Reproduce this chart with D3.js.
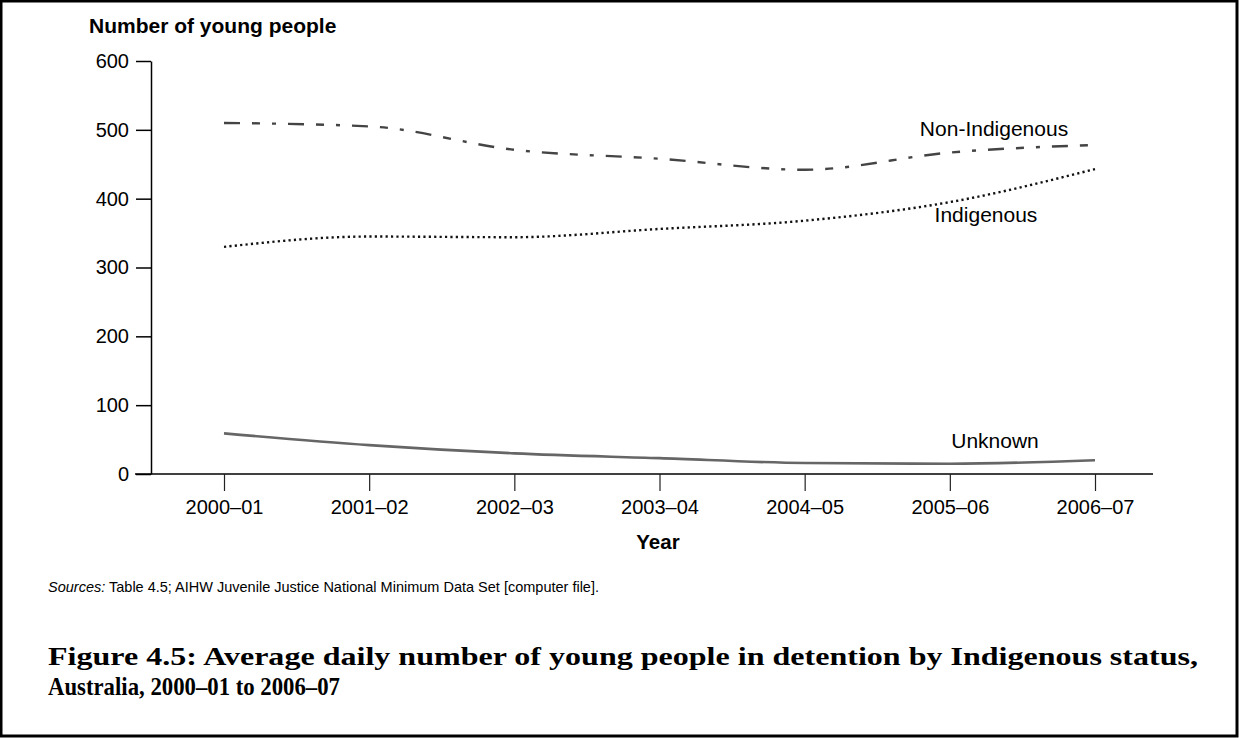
<!DOCTYPE html>
<html>
<head>
<meta charset="utf-8">
<script src="https://cdn.jsdelivr.net/npm/d3@7"></script>
<style>
  body { margin: 0; background: #fff; }
</style>
</head>
<body>
<div id="chart"></div>
<script>
// values
var years = ["2000–01", "2001–02", "2002–03", "2003–04", "2004–05", "2005–06", "2006–07"];
var nonIndigenous = [510, 505, 471, 458, 442, 467, 478];
var indigenous = [330, 345, 344, 356, 368, 395, 443];
var unknown = [59, 42, 30, 23, 16, 15, 20];
var yTicks = [0, 100, 200, 300, 400, 500, 600];

var W = 1239, H = 738;
var SANS = "Liberation Sans, Arial, sans-serif";
var SERIF = "Liberation Serif, 'DejaVu Serif', serif";

var svg = d3.select("#chart")
    .append("svg")
      .attr("width", W)
      .attr("height", H)
      .attr("font-family", SANS);

// page frame
svg.append("rect")
    .attr("x", 1).attr("y", 1)
    .attr("width", W - 3).attr("height", H - 3)
    .attr("fill", "#fff")
    .attr("stroke", "#000")
    .attr("stroke-width", 3);

var yScale = d3.scaleLinear().domain([0, 600]).range([474, 61]);
var xScale = d3.scalePoint().domain(years).range([224, 1095]);

// y axis
var yAxis = svg.append("g")
    .attr("transform", "translate(151,0)")
    .call(d3.axisLeft(yScale).tickValues(yTicks).tickSize(15).tickPadding(7).tickSizeOuter(0));
yAxis.select(".domain").attr("stroke", "#000").attr("stroke-width", 1.5);
yAxis.selectAll(".tick line").attr("stroke", "#000").attr("stroke-width", 1.5);
yAxis.selectAll(".tick text")
    .attr("font-size", 20)
    .attr("font-family", SANS)
    .attr("fill", "#000");

// x axis
var xAxis = svg.append("g")
    .attr("transform", "translate(0,474)")
    .call(d3.axisBottom(xScale).tickSize(17).tickPadding(9).tickSizeOuter(0));
xAxis.select(".domain").attr("d", "M135,0H1153").attr("stroke", "#000").attr("stroke-width", 1.5);
xAxis.selectAll(".tick line").attr("stroke", "#222").attr("stroke-width", 1.2);
xAxis.selectAll(".tick text")
    .attr("font-size", 20)
    .attr("font-family", SANS)
    .attr("fill", "#000");

// series lines
var line = d3.line()
    .x(function(d, i) { return xScale(years[i]); })
    .y(function(d) { return yScale(d); })
    .curve(d3.curveMonotoneX);

svg.append("path")
    .datum(nonIndigenous)
    .attr("d", line)
    .attr("fill", "none")
    .attr("stroke", "#444")
    .attr("stroke-width", 2.4)
    .attr("stroke-dasharray", "16,12,8,12,4,12");

svg.append("path")
    .datum(indigenous)
    .attr("d", line)
    .attr("fill", "none")
    .attr("stroke", "#111")
    .attr("stroke-width", 2.4)
    .attr("stroke-dasharray", "2.2,3.2");

svg.append("path")
    .datum(unknown)
    .attr("d", line)
    .attr("fill", "none")
    .attr("stroke", "#666")
    .attr("stroke-width", 2.6);

// series labels
var labels = [
  {t: "Non-Indigenous", x: 994, y: 136},
  {t: "Indigenous", x: 986, y: 222},
  {t: "Unknown", x: 995, y: 448}
];
svg.selectAll(".lab").data(labels).enter().append("text")
    .attr("class", "lab")
    .attr("x", function(d) { return d.x; })
    .attr("y", function(d) { return d.y; })
    .attr("text-anchor", "middle")
    .attr("font-size", 21)
    .attr("fill", "#000")
    .text(function(d) { return d.t; });

// axis titles
svg.append("text")
    .attr("x", 89).attr("y", 33)
    .attr("font-size", 21)
    .attr("font-weight", "bold")
    .text("Number of young people");

svg.append("text")
    .attr("x", 658).attr("y", 549)
    .attr("text-anchor", "middle")
    .attr("font-size", 20.5)
    .attr("font-weight", "bold")
    .text("Year");

// sources note
var src = svg.append("text")
    .attr("x", 48).attr("y", 592)
    .attr("font-size", 14.5);
src.append("tspan").attr("font-style", "italic").text("Sources:");
src.append("tspan").text(" Table 4.5; AIHW Juvenile Justice National Minimum Data Set [computer file].");

// figure caption
svg.append("text")
    .attr("x", 48).attr("y", 665)
    .attr("font-family", SERIF)
    .attr("font-size", 25)
    .attr("font-weight", "bold")
    .attr("textLength", 1150)
    .attr("lengthAdjust", "spacingAndGlyphs")
    .text("Figure 4.5: Average daily number of young people in detention by Indigenous status,");

svg.append("text")
    .attr("x", 48).attr("y", 695)
    .attr("font-family", SERIF)
    .attr("font-size", 25)
    .attr("font-weight", "bold")
    .attr("textLength", 292)
    .attr("lengthAdjust", "spacingAndGlyphs")
    .text("Australia, 2000–01 to 2006–07");
</script>
</body>
</html>
